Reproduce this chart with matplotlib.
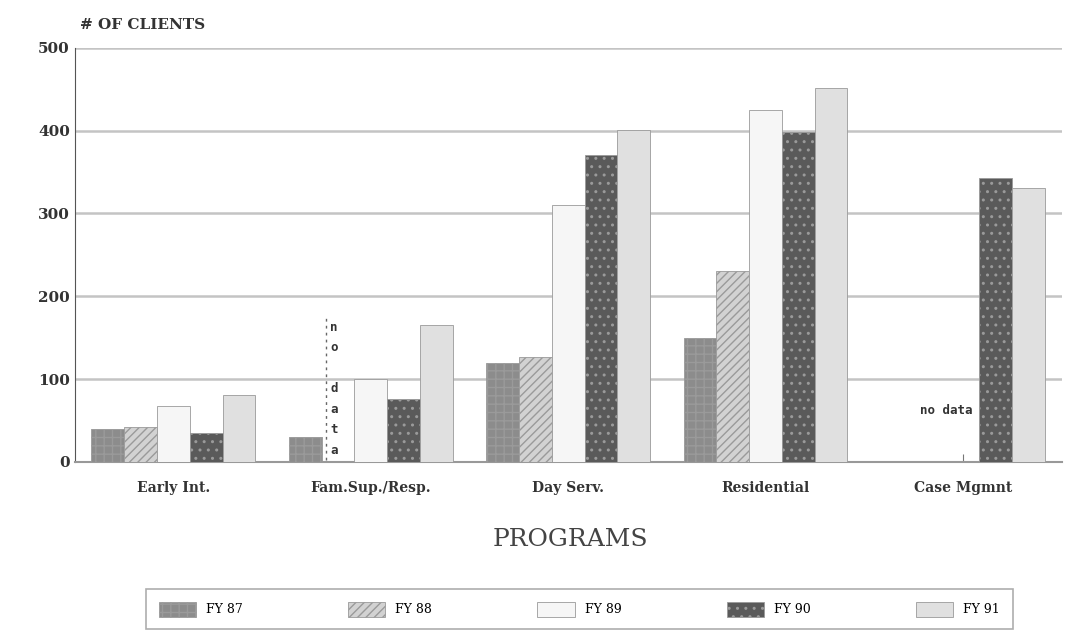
import numpy as np
import matplotlib.pyplot as plt

# programas e valores
programs = ['Early Int.', 'Fam.Sup./Resp.', 'Day Serv.', 'Residential', 'Case Mgmnt']
years = ['FY 87', 'FY 88', 'FY 89', 'FY 90', 'FY 91']

fy87 = [40, 30, 120, 150, np.nan]
fy88 = [42, np.nan, 127, 231, np.nan]
fy89 = [67, 100, 310, 425, np.nan]
fy90 = [35, 76, 371, 398, 343]
fy91 = [81, 165, 401, 452, 331]

series = [fy87, fy88, fy89, fy90, fy91]
cores = ['#8c8c8c', '#d2d2d2', '#f6f6f6', '#5a5a5a', '#e0e0e0']
hatches = ['++', '////', '', '..', '']

plt.rcParams['font.family'] = ['DejaVu Serif']

fig = plt.figure(figsize=(10.67, 6.38), dpi=100)
ax = fig.add_axes([0.07, 0.276, 0.925, 0.649])

x = np.arange(len(programs))
w = 0.166
for i, (vals, c, h) in enumerate(zip(series, cores, hatches)):
	ax.bar(x + (i - 2) * w, np.nan_to_num(vals), w, color=c, hatch=h,
		edgecolor='#9a9a9a', linewidth=0.6, label=years[i], zorder=3)

ax.set_xlim(-0.5, 4.5)
ax.set_ylim(0, 500)
ax.set_yticks([0, 100, 200, 300, 400, 500])
ax.set_xticks(x)
ax.set_xticklabels(programs, fontsize=10, fontweight='bold', color='#333333')
ax.tick_params(axis='y', labelsize=11, colors='#333333', length=0)
ax.tick_params(axis='x', direction='in', length=6, color='#777777', pad=14)
for lab in ax.get_yticklabels():
	lab.set_fontweight('bold')

ax.grid(axis='y', color='#c4c4c4', linewidth=1.8, zorder=0)
ax.spines['top'].set_visible(False)
ax.spines['right'].set_visible(False)
ax.spines['left'].set_color('#555555')
ax.spines['bottom'].set_color('#999999')
ax.spines['bottom'].set_linewidth(1.5)

# textos de "no data"
ax.text(x[1] - w - 0.02, 6, 'n\no\n\nd\na\nt\na', ha='center', va='bottom',
	fontsize=9, fontweight='bold', family='DejaVu Sans Mono', color='#333333',
	linespacing=1.75, zorder=4)
ax.plot([x[1] - w - 0.06] * 2, [2, 178], ls=(0, (2, 3)), color='#666666', lw=1, zorder=4)
ax.text(x[4] + 0.05, 62, 'no data', ha='right', va='center', fontsize=9,
	fontweight='bold', family='DejaVu Sans Mono', color='#333333', zorder=4)

fig.text(0.075, 0.955, '# OF CLIENTS', fontsize=11, fontweight='bold', color='#333333')
fig.text(0.535, 0.155, 'PROGRAMS', fontsize=18, ha='center', va='center', color='#444444')

leg = fig.legend(loc='center', bbox_to_anchor=(0.543, 0.045), ncol=5, fontsize=9,
	frameon=True, fancybox=False, edgecolor='#999999', handlelength=3.0,
	handleheight=1.5, columnspacing=8.4, borderpad=1.0)
leg.get_frame().set_linewidth(1.2)

plt.savefig('out.png', dpi=100)
